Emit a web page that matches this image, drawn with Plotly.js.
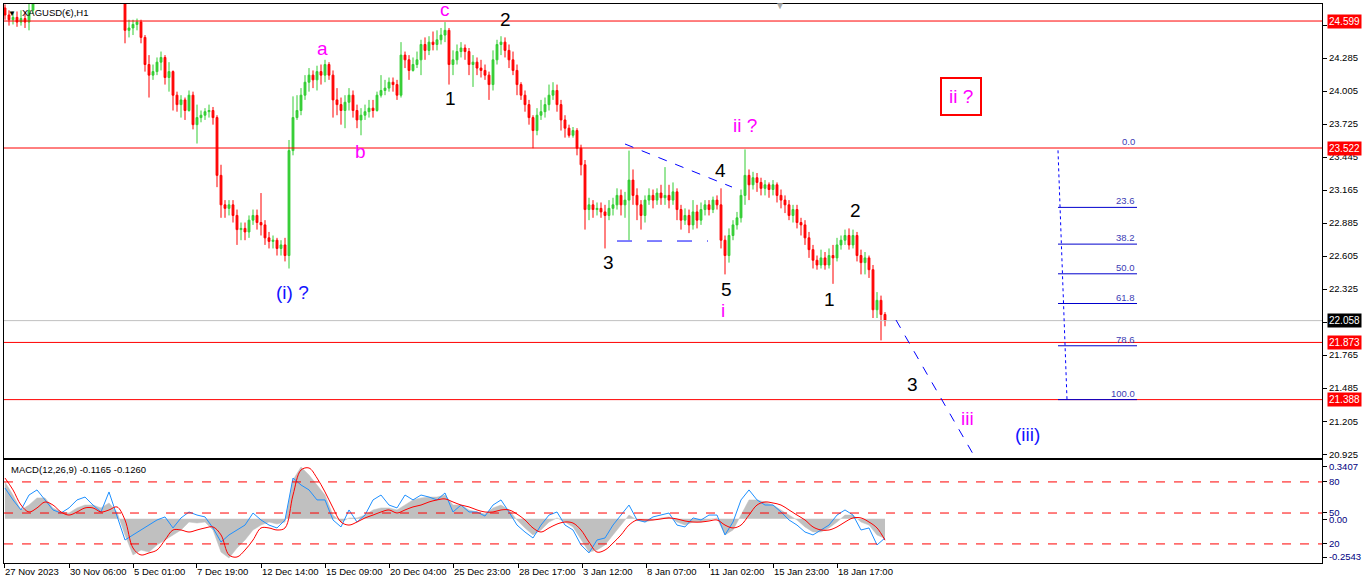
<!DOCTYPE html>
<html>
<head>
<meta charset="utf-8">
<script src="https://cdn.plot.ly/plotly-3.0.1.min.js"></script>
<style>html,body{margin:0;padding:0;background:#fff;}#chart{width:1366px;height:588px;}</style>
</head>
<body>
<div id="chart"></div>
<script>
// ---------- DATA (XAGUSD(€), H1; one entry every 4 hourly bars) ----------
const barStep = 4;          // hours per drawn candle
const firstBar = 1;         // hour index of first drawn candle (27 Nov 2023 = 0)

const openP = [
24.71,24.65,24.61,24.63,24.59,24.62,24.59,24.69,24.80,24.88,
24.85,24.80,24.83,24.79,24.82,24.86,24.90,24.88,24.93,24.96,
24.92,24.90,24.94,24.97,25.01,25.04,25.00,25.03,24.97,24.92,
24.82,24.52,24.54,24.57,24.59,24.46,24.23,24.14,24.17,24.25,
24.29,24.12,24.17,23.97,23.89,23.93,23.84,23.97,23.72,23.78,
23.80,23.83,23.84,23.78,23.29,23.04,23.01,23.04,22.95,22.83,
22.84,22.81,22.91,22.95,22.89,22.87,22.76,22.73,22.74,22.67,
22.70,22.61,23.50,23.78,23.84,23.97,24.08,24.14,24.10,24.17,
24.14,24.23,24.14,23.93,23.89,23.84,23.91,23.97,23.84,23.76,
23.80,23.83,23.86,23.84,23.97,24.01,24.03,24.08,24.06,23.97,
24.31,24.27,24.18,24.23,24.27,24.40,24.35,24.42,24.40,24.44,
24.48,24.52,24.23,24.27,24.34,24.37,24.34,24.23,24.25,24.20,
24.18,24.14,24.06,24.27,24.40,24.42,24.35,24.27,24.18,24.06,
23.97,23.89,23.78,23.67,23.80,23.83,23.89,23.97,24.01,23.89,
23.76,23.69,23.63,23.67,23.52,23.38,23.00,23.04,23.00,23.01,
22.98,22.95,23.01,23.04,23.12,23.04,23.08,23.25,23.12,23.04,
22.95,23.08,23.12,23.08,23.14,23.10,23.12,23.08,23.15,23.00,
22.91,22.95,22.87,22.98,22.91,23.00,23.04,23.00,23.08,23.04,
22.74,22.61,22.78,22.87,22.93,23.12,23.29,23.21,23.27,23.23,
23.18,23.21,23.17,23.21,23.12,23.08,23.04,22.95,23.00,22.89,
22.87,22.76,22.66,22.57,22.53,22.59,22.53,22.61,22.59,22.70,
22.74,22.78,22.70,22.78,22.61,22.55,22.59,22.49,22.15,22.23,
22.11];

const highP = [
24.74,24.69,24.68,24.68,24.69,24.68,24.76,24.84,24.92,24.93,
24.88,24.87,24.86,24.86,24.90,24.94,24.95,24.97,25.00,24.99,
24.96,24.98,25.02,25.05,25.08,25.07,25.06,25.05,25.00,24.95,
24.86,24.61,24.61,24.62,24.61,24.48,24.31,24.23,24.29,24.34,
24.31,24.25,24.18,24.00,23.97,23.95,24.01,24.00,23.89,23.84,
23.86,23.89,23.87,23.80,23.38,23.08,23.08,23.08,23.00,22.89,
22.89,22.95,23.00,23.00,23.14,22.91,22.81,22.78,22.76,22.74,
22.76,23.59,23.96,23.97,24.03,24.14,24.20,24.18,24.22,24.23,
24.27,24.25,24.18,24.03,23.95,23.97,24.03,24.01,23.89,23.86,
23.89,23.93,23.93,24.00,24.14,24.10,24.12,24.12,24.10,24.42,
24.34,24.31,24.29,24.34,24.44,24.46,24.47,24.51,24.52,24.54,
24.59,24.54,24.35,24.40,24.42,24.40,24.37,24.31,24.29,24.27,
24.23,24.17,24.35,24.44,24.47,24.46,24.40,24.34,24.23,24.08,
24.01,23.93,23.80,23.86,23.93,23.95,24.06,24.08,24.06,23.93,
23.80,23.72,23.70,23.69,23.55,23.42,23.10,23.08,23.06,23.06,
23.04,23.08,23.10,23.18,23.17,23.15,23.50,23.34,23.18,23.08,
23.12,23.18,23.17,23.18,23.21,23.36,23.21,23.23,23.18,23.04,
23.01,23.00,23.08,23.04,23.06,23.08,23.08,23.11,23.12,23.18,
22.78,22.84,22.91,22.98,23.17,23.51,23.34,23.32,23.31,23.27,
23.25,23.23,23.25,23.23,23.17,23.12,23.08,23.04,23.04,22.93,
22.91,22.81,22.70,22.61,22.66,22.64,22.67,22.70,22.76,22.78,
22.83,22.84,22.83,22.81,22.66,22.64,22.61,22.53,22.30,22.27,
22.13];

const lowP = [
24.61,24.56,24.57,24.55,24.56,24.54,24.52,24.66,24.77,24.80,
24.76,24.77,24.75,24.76,24.79,24.83,24.84,24.85,24.90,24.88,
24.86,24.87,24.91,24.94,24.98,24.96,24.97,24.93,24.88,24.80,
24.41,24.46,24.48,24.52,24.41,24.17,23.95,24.10,24.14,24.18,
24.06,24.00,23.84,23.83,23.78,23.76,23.83,23.68,23.56,23.74,
23.76,23.78,23.72,23.19,22.93,22.93,22.95,22.89,22.70,22.74,
22.74,22.76,22.87,22.83,22.78,22.70,22.67,22.67,22.61,22.61,
22.56,22.50,23.46,23.76,23.80,23.93,24.00,24.03,24.01,24.06,
24.08,24.10,23.78,23.80,23.72,23.69,23.84,23.78,23.69,23.63,
23.76,23.78,23.78,23.83,23.95,23.97,24.00,24.00,23.93,23.95,
24.20,24.10,24.17,24.20,24.14,24.27,24.31,24.35,24.35,24.40,
24.42,24.06,24.14,24.23,24.29,24.27,24.14,24.04,24.14,24.12,
24.10,23.93,24.01,24.23,24.31,24.29,24.20,24.14,23.97,23.93,
23.83,23.72,23.52,23.63,23.76,23.78,23.84,23.93,23.83,23.67,
23.61,23.61,23.61,23.46,23.29,22.83,22.91,22.93,22.95,22.93,
22.67,22.91,22.95,23.00,22.95,22.93,22.74,23.04,22.91,22.83,
22.89,23.04,23.01,23.04,23.04,23.04,23.01,23.04,22.91,22.83,
22.87,22.80,22.83,22.84,22.87,22.95,22.95,22.97,23.00,22.67,
22.45,22.55,22.74,22.83,22.89,23.04,23.08,23.17,23.15,23.12,
23.12,23.10,23.12,23.06,23.01,22.97,22.91,22.89,22.84,22.78,
22.70,22.59,22.50,22.49,22.50,22.49,22.50,22.37,22.56,22.66,
22.70,22.66,22.67,22.56,22.45,22.45,22.42,22.08,22.08,21.89,
22.01];

const closeP = [
24.65,24.61,24.63,24.59,24.62,24.59,24.69,24.80,24.88,24.85,
24.80,24.83,24.79,24.82,24.86,24.90,24.88,24.93,24.96,24.92,
24.90,24.94,24.97,25.01,25.04,25.00,25.03,24.97,24.92,24.84,
24.52,24.54,24.57,24.59,24.46,24.23,24.14,24.17,24.25,24.29,
24.12,24.17,23.97,23.89,23.93,23.84,23.97,23.72,23.78,23.80,
23.83,23.84,23.78,23.29,23.04,23.01,23.04,22.95,22.83,22.84,
22.81,22.91,22.95,22.89,22.87,22.76,22.73,22.74,22.67,22.70,
22.61,23.50,23.78,23.84,23.97,24.08,24.14,24.10,24.17,24.14,
24.23,24.14,23.93,23.89,23.84,23.91,23.97,23.84,23.76,23.80,
23.83,23.86,23.84,23.97,24.01,24.03,24.08,24.06,23.97,24.31,
24.27,24.18,24.23,24.27,24.40,24.35,24.42,24.40,24.44,24.48,
24.52,24.23,24.27,24.34,24.37,24.34,24.23,24.25,24.20,24.18,
24.14,24.06,24.27,24.40,24.42,24.35,24.27,24.18,24.06,23.97,
23.89,23.78,23.67,23.80,23.83,23.89,23.97,24.01,23.89,23.76,
23.69,23.63,23.67,23.52,23.38,23.00,23.04,23.00,23.01,22.98,
22.95,23.01,23.04,23.12,23.04,23.08,23.25,23.12,23.04,22.95,
23.08,23.12,23.08,23.14,23.10,23.12,23.08,23.15,23.00,22.91,
22.95,22.87,22.98,22.91,23.00,23.04,23.00,23.08,23.04,22.74,
22.61,22.78,22.87,22.93,23.12,23.29,23.21,23.27,23.23,23.18,
23.21,23.17,23.21,23.12,23.08,23.04,22.95,23.00,22.89,22.87,
22.76,22.66,22.57,22.53,22.59,22.53,22.61,22.59,22.70,22.74,
22.78,22.70,22.78,22.61,22.55,22.59,22.49,22.15,22.23,22.11,
22.058];

// MACD(12,26,9) panel, one value every 8 hourly bars
const macdStep = 8;
const macdHist = [
0.217,0.140,0.052,0.081,0.123,0.123,0.064,0.040,0.034,0.064,
0.081,0.081,0.064,0.093,0.040,-0.095,-0.213,-0.184,-0.196,-0.154,
-0.125,-0.095,-0.066,-0.019,-0.025,-0.019,-0.066,-0.196,-0.231,-0.172,
-0.125,-0.066,-0.037,-0.019,-0.031,-0.019,0.229,0.305,0.258,0.199,
0.140,0.022,-0.019,0.005,0.005,0.022,0.052,0.064,0.064,0.052,
0.081,0.111,0.123,0.128,0.128,0.140,0.081,0.081,0.052,0.040,
0.028,0.064,0.081,0.052,-0.007,-0.054,-0.095,-0.066,-0.019,0.005,
-0.019,-0.048,-0.125,-0.196,-0.184,-0.154,-0.095,-0.037,0.022,-0.007,
-0.019,-0.007,0.005,0.011,-0.019,-0.037,-0.019,-0.019,-0.007,0.005,
-0.095,-0.066,0.022,0.111,0.111,0.099,0.081,0.052,0.022,-0.007,
-0.048,-0.078,-0.078,-0.054,-0.019,0.022,0.022,-0.019,-0.037,-0.095,
-0.1165];
const macdSignal = [
0.240,0.170,0.081,0.040,0.064,0.099,0.081,0.040,0.022,0.040,
0.064,0.064,0.040,0.052,0.070,-0.007,-0.172,-0.213,-0.201,-0.184,
-0.125,-0.066,-0.066,-0.078,-0.066,-0.054,-0.048,-0.095,-0.213,-0.225,
-0.184,-0.125,-0.054,-0.054,-0.066,-0.054,0.140,0.287,0.299,0.240,
0.158,0.064,-0.019,-0.037,-0.019,0.005,0.022,0.040,0.052,0.034,
0.052,0.070,0.081,0.099,0.111,0.117,0.099,0.081,0.070,0.052,
0.040,0.040,0.052,0.052,0.028,-0.007,-0.054,-0.078,-0.054,-0.031,
-0.019,-0.025,-0.066,-0.137,-0.196,-0.184,-0.143,-0.095,-0.037,-0.007,
-0.007,-0.007,-0.001,0.005,-0.001,-0.013,-0.019,-0.019,-0.013,-0.007,
-0.037,-0.054,-0.037,0.022,0.081,0.099,0.093,0.081,0.052,0.022,
-0.007,-0.048,-0.066,-0.066,-0.048,-0.019,0.005,0.005,-0.019,-0.054,
-0.126];
const macdFast = [
0.181,0.111,0.052,0.140,0.170,0.111,0.052,0.034,0.064,0.111,
0.128,0.081,0.040,0.158,0.022,-0.125,-0.095,-0.066,-0.037,-0.007,
0.011,-0.054,0.005,0.040,0.022,0.011,-0.054,-0.137,-0.095,-0.066,
-0.037,0.034,-0.007,-0.037,-0.054,-0.007,0.240,0.199,0.170,0.111,
0.111,-0.007,-0.048,0.052,-0.019,0.022,0.111,0.140,0.081,0.064,
0.140,0.111,0.140,0.128,0.111,0.152,0.040,0.081,0.040,0.040,
0.016,0.081,0.111,0.040,-0.037,-0.078,-0.113,-0.037,0.022,0.040,
-0.037,-0.066,-0.154,-0.201,-0.125,-0.113,-0.037,0.022,0.081,-0.007,
-0.019,0.011,0.022,0.034,-0.037,-0.048,0.005,-0.007,0.022,0.022,
-0.095,-0.019,0.111,0.170,0.111,0.081,0.081,0.040,-0.007,-0.037,
-0.078,-0.095,-0.066,-0.037,0.022,0.052,0.022,-0.066,-0.054,-0.154,
-0.113];

// time axis labels (hour index from 27 Nov 2023 00:00)
const timeTickBars = [0,65,129,192,257,321,385,449,514,578,642,705,769,833];
const timeTickText = ["27 Nov 2023","30 Nov 06:00","5 Dec 01:00","7 Dec 19:00","12 Dec 14:00","15 Dec 09:00","20 Dec 04:00","25 Dec 23:00","28 Dec 17:00","3 Jan 12:00","8 Jan 07:00","11 Jan 02:00","15 Jan 23:00","18 Jan 17:00"];

// horizontal price levels
const redLevels = [24.599, 23.522, 21.873, 21.388];
const lastPrice = 22.058;
const priceTicks = [24.565,24.285,24.005,23.725,23.445,23.165,22.885,22.605,22.325,22.045,21.765,21.485,21.205,20.925];

// Fibonacci retracement
const fibHigh = 23.522, fibLow = 21.388;
const fibLevels = [0, 23.6, 38.2, 50.0, 61.8, 78.6, 100.0];

// MACD panel levels
const macdLevelVals = [0.217, 0.034, -0.148];

// Elliott wave labels [text, hourIndex, price, color]
const waveLabels = [
 ["c", 441, 24.70, "#ff00ff"],
 ["a", 318, 24.37, "#ff00ff"],
 ["b", 356, 23.49, "#ff00ff"],
 ["2", 501, 24.61, "#000000"],
 ["1", 446, 23.946, "#000000"],
 ["(i) ?", 288, 22.30, "#1414ff"],
 ["3", 604, 22.555, "#000000"],
 ["4", 716, 23.335, "#000000"],
 ["5", 722, 22.326, "#000000"],
 ["i", 719, 22.148, "#ff00ff"],
 ["ii ?", 741, 23.717, "#ff00ff"],
 ["2", 851, 22.996, "#000000"],
 ["1", 825, 22.233, "#000000"],
 ["3", 908, 21.512, "#000000"],
 ["iii", 963, 21.232, "#ff00ff"],
 ["(iii)", 1023, 21.088, "#1414ff"]
];

// trend lines [hour0, price0, hour1, price1, dash]
const trendLines = [
 [621, 23.556, 728, 23.191, "dash"],
 [613, 22.733, 704, 22.733, "longdash"],
 [892, 22.063, 1000, 20.47, "dash"]
];

// ---------- BUILD ----------
const xBars = openP.map((_, i) => firstBar + i * barStep);
const xMacd = macdHist.map((_, i) => firstBar + i * macdStep);

const FONT = "Liberation Sans, Arial, sans-serif";

const traces = [
 {
  type: "candlestick", x: xBars, open: openP, high: highP, low: lowP, close: closeP,
  xaxis: "x", yaxis: "y",
  increasing: {line: {color: "#32cd32", width: 1}, fillcolor: "#32cd32"},
  decreasing: {line: {color: "#ff0000", width: 1}, fillcolor: "#ff0000"},
  whiskerwidth: 0, hoverinfo: "skip", showlegend: false
 },
 {
  type: "scatter", mode: "lines", x: xMacd, y: macdHist, xaxis: "x2", yaxis: "y2",
  fill: "tozeroy", fillcolor: "#c0c0c0", line: {color: "#c0c0c0", width: 0.5},
  hoverinfo: "skip", showlegend: false
 },
 {
  type: "scatter", mode: "lines", x: xMacd, y: macdFast, xaxis: "x2", yaxis: "y2",
  line: {color: "#1e90ff", width: 1}, hoverinfo: "skip", showlegend: false
 },
 {
  type: "scatter", mode: "lines", x: xMacd, y: macdSignal, xaxis: "x2", yaxis: "y2",
  line: {color: "#ff0000", width: 1, shape: "spline"}, hoverinfo: "skip", showlegend: false
 }
];

const shapes = [];
// current price line
shapes.push({type: "line", xref: "x domain", yref: "y", x0: 0, x1: 1, y0: lastPrice, y1: lastPrice,
  line: {color: "#c0c0c0", width: 1}});
redLevels.forEach(v => shapes.push({type: "line", xref: "x domain", yref: "y", x0: 0, x1: 1, y0: v, y1: v,
  line: {color: "#ff0000", width: 1}}));
// fib retracement
const fibX0 = 1054, fibX1 = 1133;
fibLevels.forEach(l => {
  const p = fibHigh - (fibHigh - fibLow) * l / 100;
  if (l !== 0) shapes.push({type: "line", xref: "x", yref: "y", x0: fibX0, x1: fibX1, y0: p, y1: p,
    line: {color: "#0000cd", width: 1}});
});
shapes.push({type: "line", xref: "x", yref: "y", x0: fibX0, x1: fibX0 + 9, y0: fibHigh - 0.02, y1: fibLow,
  line: {color: "#0000ff", width: 1, dash: "dot"}});
// trend lines
trendLines.forEach(t => shapes.push({type: "line", xref: "x", yref: "y", x0: t[0], y0: t[1], x1: t[2], y1: t[3],
  line: {color: "#0000ff", width: 1, dash: t[4]}}));
// MACD level lines
macdLevelVals.forEach(v => shapes.push({type: "line", xref: "x2 domain", yref: "y2", x0: 0, x1: 1, y0: v, y1: v,
  line: {color: "#ff0000", width: 1, dash: "dash"}}));

const annotations = [];
waveLabels.forEach(w => annotations.push({x: w[1], y: w[2], xref: "x", yref: "y", text: w[0], showarrow: false,
  font: {family: FONT, size: 19, color: w[3]}, xanchor: "center", yanchor: "middle"}));
// boxed ii ?
annotations.push({x: 957, y: 23.955, xref: "x", yref: "y", text: "ii ?", showarrow: false,
  font: {family: FONT, size: 19, color: "#ff00ff"}, bgcolor: "#ffffff", bordercolor: "#ff0000", borderwidth: 2,
  borderpad: 7, xanchor: "center", yanchor: "middle"});
// fib labels
fibLevels.forEach(l => {
  const p = fibHigh - (fibHigh - fibLow) * l / 100;
  annotations.push({x: fibX1, y: p, xref: "x", yref: "y", text: l.toFixed(1), showarrow: false,
    font: {family: FONT, size: 9.5, color: "#3c3cb4"}, xanchor: "right", yanchor: "bottom", yshift: -1});
});
// right-side price tags
redLevels.forEach(v => annotations.push({x: 1.004, y: v, xref: "paper", yref: "y", text: v.toFixed(3), showarrow: false,
  font: {family: FONT, size: 10, color: "#ffffff"}, bgcolor: "#ff0000", borderpad: 1, xanchor: "left", yanchor: "middle"}));
annotations.push({x: 1.004, y: lastPrice, xref: "paper", yref: "y", text: lastPrice.toFixed(3), showarrow: false,
  font: {family: FONT, size: 10, color: "#ffffff"}, bgcolor: "#000000", borderpad: 1, xanchor: "left", yanchor: "middle"});
// chart caption and indicator caption
annotations.push({x: 0.0121, y: 0.984, xref: "paper", yref: "paper", text: "XAGUSD(€),H1", showarrow: false,
  font: {family: FONT, size: 9.5, color: "#000000"}, xanchor: "left", yanchor: "middle"});
annotations.push({x: 0.006, y: 0.983, xref: "paper", yref: "paper", text: "▼", showarrow: false,
  font: {family: FONT, size: 8, color: "#000000"}, xanchor: "center", yanchor: "middle"});
annotations.push({x: 0.5888, y: 0.998, xref: "paper", yref: "paper", text: "▼", showarrow: false,
  font: {family: FONT, size: 10, color: "#a8a8a8"}, xanchor: "center", yanchor: "middle"});
annotations.push({x: 0.0038, y: 0.168, xref: "paper", yref: "paper", text: "MACD(12,26,9) -0.1165 -0.1260", showarrow: false,
  font: {family: FONT, size: 9.5, color: "#000000"}, xanchor: "left", yanchor: "middle"});

const layout = {
  width: 1366, height: 588,
  margin: {l: 4, r: 44, t: 4, b: 25, pad: 0},
  paper_bgcolor: "#ffffff", plot_bgcolor: "#ffffff",
  font: {family: FONT, size: 9.5, color: "#000000"},
  showlegend: false, hovermode: false, boxgap: 0.35,
  xaxis: {domain: [0, 1], range: [0, 1318], anchor: "y", showticklabels: false, ticks: "",
    showline: true, mirror: true, linecolor: "#000000", linewidth: 1, showgrid: false, zeroline: false,
    rangeslider: {visible: false}},
  yaxis: {domain: [0.1878, 1], range: [20.8926, 24.7434], side: "right", anchor: "x",
    tickvals: priceTicks, tickformat: ".3f", ticks: "outside", ticklen: 4, tickcolor: "#000000",
    tickfont: {family: FONT, size: 9.5, color: "#000000"},
    showline: true, mirror: true, linecolor: "#000000", linewidth: 1, showgrid: false, zeroline: false},
  xaxis2: {domain: [0, 1], range: [0, 1318], anchor: "y2", tickvals: timeTickBars, ticktext: timeTickText,
    ticks: "outside", ticklen: 4, tickcolor: "#000000", ticklabelposition: "outside right",
    tickfont: {family: FONT, size: 9.5, color: "#000000"}, tickangle: 0,
    showline: true, mirror: true, linecolor: "#000000", linewidth: 1, showgrid: false, zeroline: false},
  yaxis2: {domain: [0, 0.1843], range: [-0.2603, 0.3463], side: "right", anchor: "x2",
    tickvals: [0.305, 0.217, 0.037, -0.004, -0.148, -0.225], ticktext: ["0.3407", "80", "50", "0.00", "20", "-0.2543"],
    ticks: "outside", ticklen: 4, tickcolor: "#000000", tickfont: {family: FONT, size: 9.5, color: "#000080"},
    showline: true, mirror: true, linecolor: "#000000", linewidth: 1, showgrid: false, zeroline: false},
  shapes: shapes,
  annotations: annotations
};

Plotly.newPlot("chart", traces, layout, {staticPlot: true, displayModeBar: false});
</script>
</body>
</html>
